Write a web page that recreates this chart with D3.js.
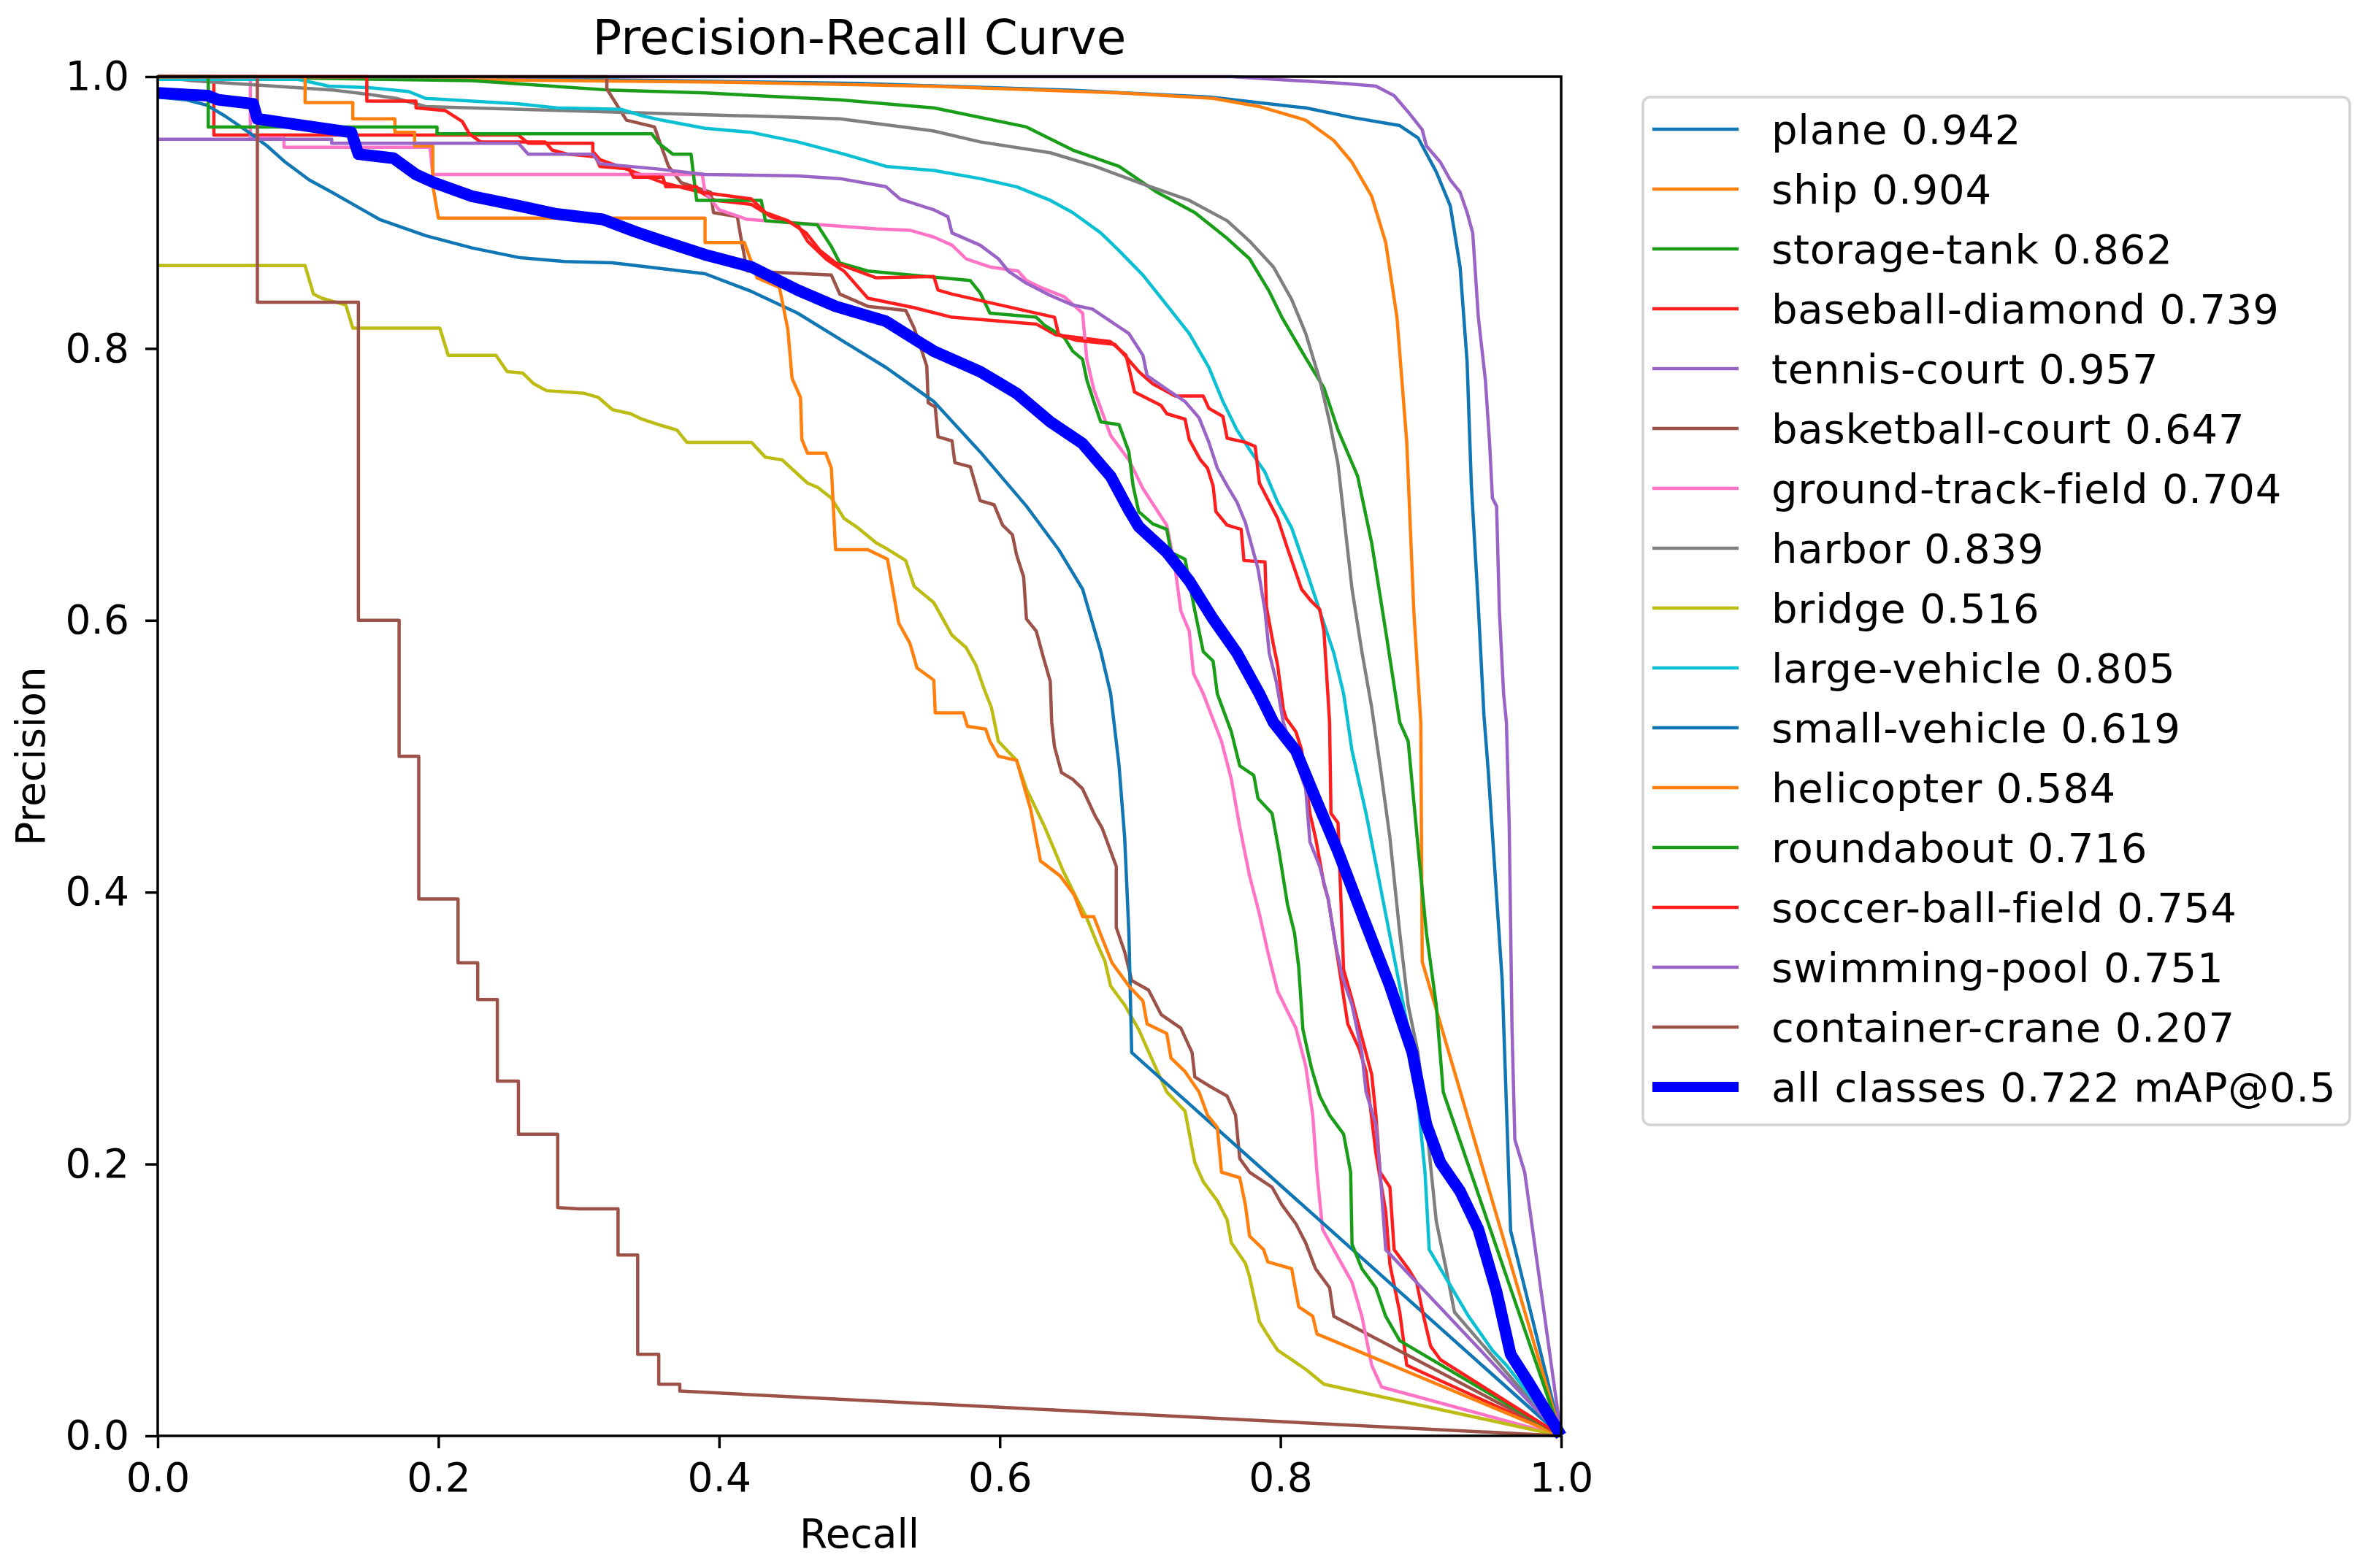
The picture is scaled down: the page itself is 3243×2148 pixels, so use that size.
<!DOCTYPE html>
<html>
  <head>
    <meta charset="utf-8">
    <title>Precision-Recall Curve</title>
    <script type="text/javascript" src="https://cdn.jsdelivr.net/npm/d3@7/dist/d3.min.js"></script>
    <style type="text/css">
      body { margin: 0; background: #ffffff; }
      svg text { font-family: "DejaVu Sans", sans-serif; fill: #000000; }
    </style>
  </head>
  <body>
    <script>

      // Class names and AP values (legend order)
      var classNames = ["plane", "ship", "storage-tank", "baseball-diamond", "tennis-court",
                        "basketball-court", "ground-track-field", "harbor", "bridge",
                        "large-vehicle", "small-vehicle", "helicopter", "roundabout",
                        "soccer-ball-field", "swimming-pool", "container-crane"];
      var apValues = [0.942, 0.904, 0.862, 0.739, 0.957, 0.647, 0.704, 0.839, 0.516,
                      0.805, 0.619, 0.584, 0.716, 0.754, 0.751, 0.207];
      var mAP = 0.722;

      var tickValues = [0, 0.2, 0.4, 0.6, 0.8, 1.0];

      // [recall, precision] points
      var plane = [[0,1],[0.3,0.998],[0.5,0.995],[0.65,0.99],[0.75,0.985],[0.818,0.977],[0.851,0.97],[0.885,0.964],[0.898,0.955],[0.911,0.93],[0.921,0.905],[0.928,0.86],[0.933,0.79],[0.936,0.70],[0.941,0.61],[0.945,0.53],[0.948,0.49],[0.958,0.335],[0.964,0.151],[1,0]];
      var ship = [[0,1],[0.2,0.998],[0.4,0.996],[0.55,0.993],[0.686,0.988],[0.752,0.984],[0.785,0.978],[0.818,0.968],[0.838,0.953],[0.851,0.937],[0.865,0.912],[0.875,0.878],[0.883,0.823],[0.890,0.731],[0.895,0.607],[0.900,0.525],[0.901,0.349],[1,0]];
      var storageTank = [[0,1],[0.1,0.999],[0.224,0.997],[0.324,0.99],[0.39,0.988],[0.486,0.983],[0.553,0.977],[0.619,0.963],[0.652,0.946],[0.685,0.934],[0.712,0.915],[0.739,0.9],[0.762,0.881],[0.778,0.866],[0.792,0.842],[0.801,0.823],[0.818,0.793],[0.831,0.771],[0.841,0.74],[0.855,0.706],[0.865,0.657],[0.875,0.592],[0.885,0.525],[0.891,0.511],[0.899,0.423],[0.904,0.37],[0.911,0.317],[0.916,0.253],[1,0]];
      var baseballDiamond = [[0,1],[0.04,1],[0.04,0.957],[0.257,0.957],[0.264,0.951],[0.31,0.951],[0.31,0.945],[0.315,0.939],[0.334,0.932],[0.36,0.922],[0.387,0.915],[0.397,0.909],[0.423,0.906],[0.437,0.897],[0.456,0.891],[0.463,0.879],[0.476,0.866],[0.489,0.857],[0.506,0.837],[0.539,0.83],[0.566,0.823],[0.626,0.818],[0.64,0.81],[0.679,0.805],[0.69,0.795],[0.696,0.768],[0.715,0.758],[0.719,0.752],[0.732,0.748],[0.735,0.733],[0.743,0.718],[0.748,0.712],[0.752,0.699],[0.754,0.68],[0.762,0.67],[0.772,0.667],[0.774,0.644],[0.789,0.643],[0.79,0.61],[0.795,0.582],[0.798,0.567],[0.802,0.535],[0.804,0.528],[0.811,0.518],[0.815,0.505],[0.821,0.458],[0.825,0.44],[0.831,0.406],[0.834,0.395],[0.841,0.35],[0.848,0.303],[0.856,0.285],[0.861,0.268],[0.868,0.208],[0.875,0.165],[0.878,0.126],[0.885,0.091],[0.89,0.052],[1,0]];
      var tennisCourt = [[0,1],[0.6,1],[0.765,1],[0.845,0.995],[0.868,0.993],[0.881,0.986],[0.891,0.974],[0.901,0.961],[0.904,0.949],[0.914,0.937],[0.921,0.924],[0.928,0.915],[0.933,0.9],[0.937,0.885],[0.941,0.823],[0.946,0.777],[0.949,0.731],[0.951,0.69],[0.954,0.684],[0.956,0.607],[0.959,0.546],[0.961,0.525],[0.963,0.45],[0.965,0.3],[0.967,0.218],[0.974,0.194],[1,0]];
      var basketballCourt = [[0,1],[0.32,1],[0.32,0.991],[0.334,0.968],[0.354,0.963],[0.357,0.954],[0.364,0.934],[0.373,0.922],[0.394,0.915],[0.396,0.9],[0.413,0.897],[0.416,0.879],[0.42,0.857],[0.48,0.854],[0.486,0.84],[0.506,0.831],[0.533,0.828],[0.539,0.815],[0.543,0.803],[0.548,0.787],[0.549,0.76],[0.554,0.757],[0.556,0.735],[0.566,0.732],[0.568,0.716],[0.579,0.713],[0.586,0.688],[0.596,0.685],[0.602,0.67],[0.609,0.663],[0.612,0.648],[0.617,0.632],[0.619,0.601],[0.626,0.592],[0.631,0.573],[0.636,0.555],[0.637,0.525],[0.639,0.507],[0.644,0.488],[0.652,0.483],[0.659,0.476],[0.668,0.456],[0.673,0.447],[0.678,0.433],[0.683,0.419],[0.683,0.374],[0.689,0.356],[0.694,0.335],[0.706,0.328],[0.715,0.31],[0.729,0.3],[0.737,0.282],[0.739,0.264],[0.75,0.257],[0.762,0.25],[0.768,0.236],[0.771,0.204],[0.778,0.194],[0.794,0.183],[0.801,0.17],[0.811,0.156],[0.818,0.142],[0.825,0.123],[0.835,0.109],[0.838,0.088],[1,0]];
      var groundTrackField = [[0,1],[0.066,1],[0.066,0.955],[0.09,0.955],[0.09,0.948],[0.194,0.948],[0.196,0.928],[0.388,0.928],[0.39,0.915],[0.40,0.902],[0.42,0.895],[0.512,0.888],[0.536,0.887],[0.553,0.882],[0.566,0.876],[0.576,0.866],[0.593,0.86],[0.613,0.857],[0.619,0.85],[0.629,0.845],[0.646,0.838],[0.659,0.826],[0.662,0.792],[0.667,0.77],[0.679,0.736],[0.692,0.718],[0.702,0.697],[0.712,0.681],[0.719,0.67],[0.725,0.638],[0.729,0.607],[0.735,0.592],[0.738,0.561],[0.745,0.546],[0.752,0.527],[0.758,0.511],[0.765,0.483],[0.771,0.448],[0.778,0.412],[0.785,0.384],[0.791,0.356],[0.798,0.327],[0.811,0.3],[0.818,0.272],[0.823,0.236],[0.826,0.194],[0.83,0.152],[0.838,0.137],[0.851,0.113],[0.858,0.088],[0.865,0.052],[0.872,0.036],[1,0]];
      var harbor = [[0,1],[0.024,0.997],[0.126,0.99],[0.15,0.987],[0.17,0.984],[0.191,0.978],[0.29,0.975],[0.39,0.972],[0.456,0.97],[0.486,0.969],[0.553,0.96],[0.586,0.952],[0.636,0.944],[0.668,0.934],[0.702,0.921],[0.735,0.909],[0.762,0.894],[0.778,0.879],[0.795,0.86],[0.808,0.836],[0.818,0.811],[0.828,0.777],[0.835,0.746],[0.841,0.715],[0.846,0.669],[0.851,0.623],[0.858,0.577],[0.865,0.536],[0.871,0.493],[0.878,0.44],[0.885,0.37],[0.891,0.317],[0.898,0.282],[0.904,0.229],[0.911,0.158],[0.918,0.123],[0.924,0.091],[1,0]];
      var bridge = [[0,0.861],[0.105,0.861],[0.111,0.84],[0.117,0.837],[0.134,0.832],[0.139,0.815],[0.201,0.815],[0.207,0.795],[0.241,0.795],[0.249,0.783],[0.26,0.782],[0.268,0.774],[0.277,0.769],[0.304,0.767],[0.314,0.764],[0.324,0.755],[0.337,0.752],[0.345,0.748],[0.36,0.743],[0.37,0.74],[0.377,0.731],[0.423,0.731],[0.433,0.72],[0.445,0.718],[0.463,0.701],[0.47,0.698],[0.48,0.69],[0.489,0.675],[0.499,0.668],[0.512,0.657],[0.519,0.653],[0.533,0.644],[0.539,0.625],[0.553,0.613],[0.566,0.589],[0.576,0.58],[0.583,0.567],[0.589,0.549],[0.594,0.536],[0.599,0.511],[0.612,0.497],[0.619,0.476],[0.632,0.448],[0.645,0.416],[0.655,0.395],[0.662,0.381],[0.669,0.363],[0.675,0.349],[0.679,0.331],[0.689,0.317],[0.699,0.299],[0.705,0.285],[0.719,0.253],[0.732,0.239],[0.739,0.201],[0.745,0.187],[0.755,0.173],[0.762,0.159],[0.765,0.142],[0.775,0.127],[0.778,0.117],[0.785,0.084],[0.791,0.074],[0.798,0.063],[0.808,0.056],[0.818,0.049],[0.831,0.038],[1,0]];
      var largeVehicle = [[0,0.998],[0.1,0.998],[0.122,0.993],[0.15,0.992],[0.179,0.989],[0.191,0.984],[0.257,0.98],[0.284,0.977],[0.33,0.976],[0.346,0.971],[0.359,0.968],[0.39,0.962],[0.423,0.959],[0.456,0.952],[0.489,0.943],[0.519,0.934],[0.553,0.931],[0.586,0.925],[0.612,0.919],[0.636,0.909],[0.652,0.9],[0.672,0.885],[0.685,0.872],[0.702,0.854],[0.719,0.832],[0.735,0.811],[0.749,0.786],[0.759,0.761],[0.769,0.74],[0.779,0.724],[0.789,0.709],[0.798,0.687],[0.808,0.668],[0.818,0.638],[0.828,0.607],[0.838,0.576],[0.845,0.546],[0.851,0.504],[0.861,0.458],[0.871,0.405],[0.881,0.352],[0.891,0.299],[0.898,0.246],[0.903,0.194],[0.906,0.137],[0.918,0.116],[0.934,0.088],[0.951,0.063],[0.961,0.052],[1,0]];
      var smallVehicle = [[0,0.985],[0.02,0.983],[0.035,0.979],[0.048,0.971],[0.065,0.959],[0.078,0.949],[0.091,0.937],[0.108,0.924],[0.124,0.915],[0.141,0.905],[0.158,0.895],[0.191,0.883],[0.224,0.874],[0.257,0.867],[0.29,0.864],[0.324,0.863],[0.357,0.859],[0.39,0.855],[0.423,0.842],[0.456,0.826],[0.489,0.805],[0.519,0.786],[0.553,0.761],[0.586,0.724],[0.619,0.684],[0.642,0.652],[0.659,0.623],[0.672,0.577],[0.679,0.546],[0.685,0.493],[0.689,0.44],[0.692,0.37],[0.694,0.282],[1,0]];
      var helicopter = [[0,1],[0.105,1],[0.105,0.981],[0.139,0.981],[0.139,0.969],[0.169,0.969],[0.169,0.959],[0.183,0.959],[0.183,0.949],[0.196,0.949],[0.196,0.92],[0.200,0.896],[0.39,0.896],[0.39,0.878],[0.418,0.878],[0.427,0.852],[0.443,0.845],[0.449,0.814],[0.452,0.778],[0.458,0.764],[0.459,0.733],[0.463,0.723],[0.476,0.723],[0.480,0.712],[0.483,0.652],[0.506,0.652],[0.52,0.645],[0.528,0.598],[0.536,0.583],[0.541,0.565],[0.553,0.556],[0.554,0.532],[0.574,0.532],[0.577,0.522],[0.59,0.52],[0.593,0.511],[0.599,0.5],[0.612,0.497],[0.622,0.461],[0.629,0.423],[0.643,0.412],[0.653,0.398],[0.659,0.382],[0.667,0.382],[0.673,0.366],[0.68,0.348],[0.692,0.331],[0.702,0.32],[0.705,0.303],[0.719,0.296],[0.722,0.278],[0.732,0.268],[0.742,0.253],[0.748,0.236],[0.755,0.227],[0.758,0.194],[0.771,0.19],[0.775,0.17],[0.778,0.147],[0.788,0.137],[0.791,0.128],[0.808,0.123],[0.813,0.095],[0.823,0.088],[0.826,0.075],[1,0]];
      var roundabout = [[0,1],[0.036,1],[0.036,0.963],[0.199,0.963],[0.199,0.958],[0.352,0.958],[0.357,0.951],[0.367,0.943],[0.38,0.943],[0.384,0.909],[0.43,0.909],[0.433,0.894],[0.47,0.891],[0.48,0.875],[0.486,0.863],[0.506,0.857],[0.579,0.85],[0.586,0.841],[0.593,0.826],[0.626,0.823],[0.632,0.817],[0.646,0.808],[0.652,0.798],[0.659,0.792],[0.662,0.777],[0.667,0.761],[0.672,0.746],[0.685,0.744],[0.692,0.724],[0.695,0.699],[0.699,0.68],[0.709,0.671],[0.719,0.667],[0.722,0.65],[0.732,0.645],[0.739,0.607],[0.745,0.577],[0.752,0.57],[0.755,0.546],[0.765,0.518],[0.771,0.493],[0.781,0.486],[0.784,0.469],[0.794,0.458],[0.799,0.43],[0.805,0.391],[0.81,0.37],[0.813,0.345],[0.816,0.299],[0.822,0.271],[0.828,0.25],[0.835,0.236],[0.845,0.222],[0.85,0.194],[0.851,0.141],[0.858,0.123],[0.868,0.109],[0.875,0.088],[0.885,0.07],[1,0]];
      var soccerBallField = [[0,1],[0.149,1],[0.149,0.982],[0.184,0.982],[0.184,0.977],[0.205,0.975],[0.217,0.967],[0.222,0.958],[0.23,0.952],[0.276,0.952],[0.281,0.946],[0.292,0.943],[0.312,0.941],[0.315,0.934],[0.336,0.932],[0.339,0.926],[0.36,0.926],[0.362,0.919],[0.384,0.919],[0.387,0.915],[0.423,0.91],[0.433,0.9],[0.449,0.894],[0.462,0.885],[0.472,0.872],[0.483,0.863],[0.512,0.852],[0.553,0.853],[0.556,0.843],[0.566,0.84],[0.639,0.823],[0.642,0.81],[0.655,0.806],[0.682,0.803],[0.689,0.795],[0.699,0.783],[0.709,0.774],[0.725,0.765],[0.745,0.765],[0.749,0.756],[0.759,0.75],[0.762,0.734],[0.775,0.731],[0.782,0.728],[0.785,0.701],[0.798,0.675],[0.805,0.653],[0.815,0.623],[0.822,0.614],[0.828,0.608],[0.831,0.592],[0.835,0.525],[0.836,0.458],[0.841,0.451],[0.845,0.343],[0.851,0.321],[0.856,0.301],[0.865,0.266],[0.868,0.236],[0.871,0.194],[0.878,0.183],[0.881,0.137],[0.891,0.123],[0.897,0.113],[0.902,0.088],[0.907,0.066],[0.914,0.056],[1,0]];
      var swimmingPool = [[0,0.954],[0.124,0.954],[0.124,0.951],[0.257,0.951],[0.264,0.943],[0.31,0.943],[0.315,0.936],[0.357,0.932],[0.39,0.928],[0.456,0.927],[0.486,0.925],[0.519,0.919],[0.529,0.91],[0.553,0.902],[0.563,0.897],[0.566,0.885],[0.586,0.876],[0.599,0.866],[0.606,0.857],[0.619,0.848],[0.636,0.839],[0.652,0.832],[0.666,0.829],[0.679,0.82],[0.692,0.811],[0.702,0.795],[0.705,0.78],[0.719,0.77],[0.732,0.761],[0.742,0.749],[0.749,0.731],[0.755,0.712],[0.762,0.699],[0.769,0.687],[0.775,0.672],[0.78,0.653],[0.784,0.638],[0.789,0.607],[0.792,0.576],[0.797,0.555],[0.802,0.525],[0.81,0.5],[0.818,0.476],[0.821,0.437],[0.828,0.419],[0.834,0.395],[0.839,0.363],[0.844,0.338],[0.851,0.317],[0.858,0.282],[0.861,0.253],[0.868,0.229],[0.871,0.194],[0.875,0.137],[1,0]];
      var containerCrane = [[0,1],[0.071,1],[0.071,0.834],[0.143,0.834],[0.143,0.6],[0.172,0.6],[0.172,0.5],[0.186,0.5],[0.186,0.395],[0.214,0.395],[0.214,0.348],[0.228,0.348],[0.228,0.321],[0.242,0.321],[0.242,0.261],[0.257,0.261],[0.257,0.222],[0.285,0.222],[0.285,0.168],[0.3,0.167],[0.328,0.167],[0.328,0.133],[0.342,0.133],[0.342,0.06],[0.357,0.06],[0.357,0.038],[0.372,0.038],[0.372,0.033],[1,0]];
      var allClasses = [[0,0.988],[0.036,0.986],[0.043,0.983],[0.068,0.98],[0.071,0.969],[0.091,0.966],[0.138,0.959],[0.143,0.943],[0.168,0.94],[0.184,0.928],[0.197,0.922],[0.224,0.912],[0.257,0.905],[0.284,0.899],[0.317,0.895],[0.34,0.886],[0.357,0.88],[0.39,0.869],[0.423,0.86],[0.456,0.843],[0.483,0.831],[0.519,0.82],[0.553,0.798],[0.586,0.783],[0.612,0.767],[0.636,0.746],[0.659,0.73],[0.679,0.706],[0.692,0.681],[0.699,0.669],[0.719,0.65],[0.735,0.629],[0.752,0.601],[0.769,0.576],[0.785,0.546],[0.795,0.525],[0.811,0.504],[0.825,0.469],[0.841,0.43],[0.858,0.384],[0.878,0.331],[0.894,0.282],[0.904,0.229],[0.914,0.201],[0.928,0.18],[0.941,0.152],[0.954,0.106],[0.964,0.06],[0.977,0.039],[1,0]];

      var curves = [plane, ship, storageTank, baseballDiamond, tennisCourt, basketballCourt,
                    groundTrackField, harbor, bridge, largeVehicle, smallVehicle, helicopter,
                    roundabout, soccerBallField, swimmingPool, containerCrane];

      // matplotlib-like colour cycle (repeats after 10)
      var palette = ["#1176b4", "#ff800e", "#1a9e1a", "#ff1e1e", "#9a64c6",
                     "#9c5248", "#ff74c6", "#7f7f7f", "#bcbc14", "#0cc0d4"];

      var W = 3243, H = 2148;
      // plot frame in pixels (note: "top" is reserved on window, so prefixed names)
      var plotL = 216, plotR = 2138, plotT = 105, plotB = 1967;
      var thin = 4.5, thick = 16;

      var svg = d3.select("body")
                  .append("svg")
                  .attr("width", W)
                  .attr("height", H);

      svg.append("rect")
         .attr("width", W)
         .attr("height", H)
         .attr("fill", "#ffffff");

      var x = d3.scaleLinear().domain([0, 1]).range([plotL, plotR]);
      var y = d3.scaleLinear().domain([0, 1]).range([plotB, plotT]);

      var line = d3.line()
                   .x(function(d) { return x(d[0]); })
                   .y(function(d) { return y(d[1]); });

      // clip so nothing spills past the frame
      svg.append("clipPath")
         .attr("id", "plotclip")
         .append("rect")
         .attr("x", plotL - 8)
         .attr("y", plotT - 8)
         .attr("width", plotR - plotL + 16)
         .attr("height", plotB - plotT + 16);

      var plot = svg.append("g").attr("clip-path", "url(#plotclip)");

      // Draw class curves
      curves.forEach(function(c, i) {
        plot.append("path")
            .datum(c)
            .attr("d", line)
            .attr("fill", "none")
            .attr("stroke", palette[i % 10])
            .attr("stroke-width", thin)
            .attr("stroke-linejoin", "round");
      });

      // Mean curve on top
      plot.append("path")
          .datum(allClasses)
          .attr("d", line)
          .attr("fill", "none")
          .attr("stroke", "#0000ff")
          .attr("stroke-width", thick)
          .attr("stroke-linejoin", "round");

      // Axes
      var xAxis = svg.append("g")
          .attr("transform", "translate(0," + plotB + ")")
          .call(d3.axisBottom(x)
                  .tickValues(tickValues)
                  .tickFormat(d3.format(".1f"))
                  .tickSize(17)
                  .tickPadding(20));

      var yAxis = svg.append("g")
          .attr("transform", "translate(" + plotL + ",0)")
          .call(d3.axisLeft(y)
                  .tickValues(tickValues)
                  .tickFormat(d3.format(".1f"))
                  .tickSize(17)
                  .tickPadding(22));

      [xAxis, yAxis].forEach(function(a) {
        a.select(".domain").remove();
        a.selectAll(".tick line").attr("stroke", "#000").attr("stroke-width", 3.5);
        a.selectAll(".tick text")
         .attr("font-family", "DejaVu Sans")
         .attr("font-size", 55)
         .attr("fill", "#000");
      });

      // Frame
      svg.append("rect")
         .attr("x", plotL)
         .attr("y", plotT)
         .attr("width", plotR - plotL)
         .attr("height", plotB - plotT)
         .attr("fill", "none")
         .attr("stroke", "#000")
         .attr("stroke-width", 3.5);

      // Title and axis labels
      svg.append("text")
         .attr("x", (plotL + plotR) / 2)
         .attr("y", 74)
         .attr("text-anchor", "middle")
         .attr("font-size", 66)
         .text("Precision-Recall Curve");

      svg.append("text")
         .attr("x", (plotL + plotR) / 2)
         .attr("y", 2120)
         .attr("text-anchor", "middle")
         .attr("font-size", 55)
         .text("Recall");

      svg.append("text")
         .attr("transform", "translate(61," + ((plotT + plotB) / 2) + ") rotate(-90)")
         .attr("text-anchor", "middle")
         .attr("font-size", 55)
         .text("Precision");

      // Legend
      var legend = svg.append("g");
      legend.append("rect")
            .attr("x", 2250)
            .attr("y", 133)
            .attr("width", 968)
            .attr("height", 1408)
            .attr("rx", 10)
            .attr("fill", "#ffffff")
            .attr("fill-opacity", 0.8)
            .attr("stroke", "#d3d3d3")
            .attr("stroke-width", 3.5);

      var labels = classNames.map(function(n, i) { return n + " " + apValues[i].toFixed(3); });
      labels.push("all classes " + mAP.toFixed(3) + " mAP@0.5");

      labels.forEach(function(t, i) {
        var ry = 177 + i * 82;
        var isAll = i === classNames.length;
        legend.append("line")
              .attr("x1", 2263)
              .attr("x2", 2381)
              .attr("y1", ry)
              .attr("y2", ry)
              .attr("stroke", isAll ? "#0000ff" : palette[i % 10])
              .attr("stroke-width", isAll ? 14 : thin);
        legend.append("text")
              .attr("x", 2426)
              .attr("y", ry)
              .attr("dy", "0.36em")
              .attr("font-size", 56)
              .attr("letter-spacing", 0.8)
              .text(t);
      });

    </script>
  </body>
</html>
